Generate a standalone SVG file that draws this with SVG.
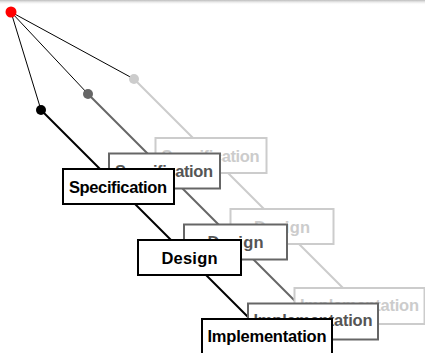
<svg xmlns="http://www.w3.org/2000/svg" width="425" height="353" viewBox="0 0 425 353">
<defs>
<linearGradient id="topShade" x1="0" y1="0" x2="0" y2="1">
<stop offset="0" stop-color="#bbbbbb"/>
<stop offset="1" stop-color="#ffffff" stop-opacity="0"/>
</linearGradient>
</defs>
<style>
.box{fill:#ffffff;stroke-width:2}
.lbl{font-family:"Liberation Sans",Arial,sans-serif;font-weight:bold;font-size:16.5px;text-anchor:middle}
.k .box{stroke:#000000}.k .lbl{fill:#000000}
.g .box{stroke:#666666}.g .lbl{fill:#555555}
.l .box{stroke:#cccccc}.l .lbl{fill:#cccccc}
.thin{stroke:#000000;stroke-width:1;fill:none}
.main{stroke-width:2;fill:none}
</style>
<rect x="0" y="0" width="425" height="5" fill="url(#topShade)"/>
<g id="connectors">
<line class="main" x1="134" y1="79" x2="353" y2="298" stroke="#cccccc"/>
<line class="main" x1="88" y1="94" x2="307" y2="313" stroke="#666666"/>
<line class="main" x1="41" y1="110" x2="262" y2="331" stroke="#000000"/>
<line class="thin" x1="11" y1="12" x2="41" y2="110"/>
<line class="thin" x1="11" y1="12" x2="88" y2="94"/>
<line class="thin" x1="11" y1="12" x2="134" y2="79"/>
</g>
<g id="layer-light" class="l" transform="translate(92.5,-31)">
<g id="spec-light"><rect class="box" x="63" y="169" width="111" height="35"/><text class="lbl" x="118" y="192.5" textLength="98">Specification</text></g>
<g id="design-light"><rect class="box" x="138" y="240" width="103" height="35"/><text class="lbl" x="189.5" y="263.5" textLength="56">Design</text></g>
<g id="impl-light"><rect class="box" x="202" y="319" width="130" height="36"/><text class="lbl" x="267" y="341.5" textLength="119">Implementation</text></g>
</g>
<g id="layer-gray" class="g" transform="translate(46,-15.5)">
<g id="spec-gray"><rect class="box" x="63" y="169" width="111" height="35"/><text class="lbl" x="118" y="192.5" textLength="98">Specification</text></g>
<g id="design-gray"><rect class="box" x="138" y="240" width="103" height="35"/><text class="lbl" x="189.5" y="263.5" textLength="56">Design</text></g>
<g id="impl-gray"><rect class="box" x="202" y="319" width="130" height="36"/><text class="lbl" x="267" y="341.5" textLength="119">Implementation</text></g>
</g>
<g id="layer-black" class="k">
<g id="spec"><rect class="box" x="63" y="169" width="111" height="35"/><text class="lbl" x="118" y="192.5" textLength="98">Specification</text></g>
<g id="design"><rect class="box" x="138" y="240" width="103" height="35"/><text class="lbl" x="189.5" y="263.5" textLength="56">Design</text></g>
<g id="impl"><rect class="box" x="202" y="319" width="130" height="36"/><text class="lbl" x="267" y="341.5" textLength="119">Implementation</text></g>
</g>
<g id="dots">
<circle id="dot-light" cx="134" cy="79" r="5" fill="#cccccc"/>
<circle id="dot-gray" cx="88" cy="94" r="5" fill="#666666"/>
<circle id="dot-black" cx="41" cy="110" r="5" fill="#000000"/>
<circle id="root" cx="11" cy="12" r="5.5" fill="#ff0000"/>
</g>
</svg>
